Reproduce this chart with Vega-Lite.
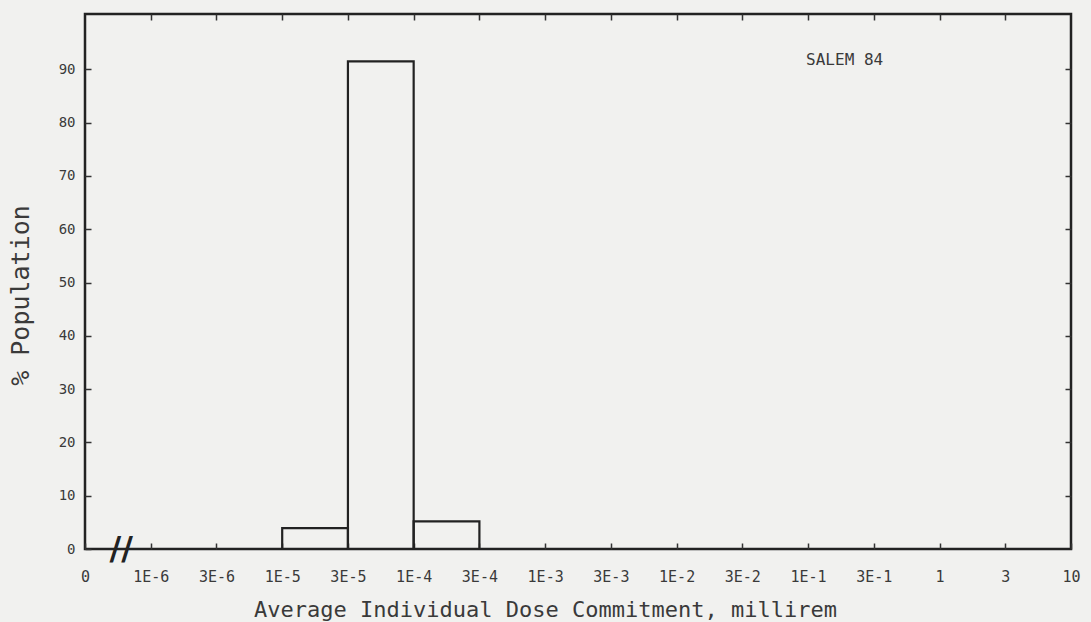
{
  "$schema": "https://vega.github.io/schema/vega-lite/v6.json",
  "width": 986,
  "height": 535,
  "autosize": "none",
  "padding": {"left": 85, "top": 14, "right": 20, "bottom": 73},
  "background": "#f1f1ef",
  "config": {
    "view": {"stroke": "#222222", "strokeWidth": 2.5},
    "axis": {
      "domain": false,
      "grid": false,
      "labelFont": "DejaVu Sans Mono",
      "titleFont": "DejaVu Sans Mono",
      "labelColor": "#3a3a3a",
      "titleColor": "#3a3a3a",
      "tickColor": "#333333",
      "tickWidth": 1.5,
      "titleFontWeight": "normal"
    }
  },
  "datasets": {
    "bars": [
      {"lo": 3, "hi": 4, "pct": 3.9},
      {"lo": 4, "hi": 5, "pct": 91.5},
      {"lo": 5, "hi": 6, "pct": 5.2}
    ],
    "note": [{"x": 10.97, "y": 91.7, "label": "SALEM  84"}],
    "brk": [{"x": 0.55, "y": 0, "label": "//"}]
  },
  "resolve": {"axis": {"x": "independent", "y": "independent"}},
  "layer": [
    {
      "data": {"name": "bars"},
      "mark": {"type": "rect", "fill": "transparent", "stroke": "#222222", "strokeWidth": 2.2},
      "encoding": {
        "x": {
          "field": "lo",
          "type": "quantitative",
          "scale": {"domain": [0, 15], "nice": false, "zero": false},
          "axis": {
            "orient": "bottom",
            "values": [0, 1, 2, 3, 4, 5, 6, 7, 8, 9, 10, 11, 12, 13, 14, 15],
            "labelExpr": "['0','1E-6','3E-6','1E-5','3E-5','1E-4','3E-4','1E-3','3E-3','1E-2','3E-2','1E-1','3E-1','1','3','10'][datum.value]",
            "labelFontSize": 15,
            "labelPadding": 26,
            "tickSize": -6,
            "labelFlush": false,
            "labelOverlap": false,
            "title": "Average Individual Dose Commitment, millirem",
            "titleFontSize": 22,
            "titleX": 460,
            "titleY": 60,
            "titleBaseline": "middle",
            "titleAlign": "center"
          }
        },
        "x2": {"field": "hi"},
        "y": {
          "field": "pct",
          "type": "quantitative",
          "scale": {"domain": [0, 100.4], "nice": false},
          "axis": {
            "orient": "left",
            "values": [0, 10, 20, 30, 40, 50, 60, 70, 80, 90],
            "labelFontSize": 14,
            "labelPadding": 16,
            "tickSize": -6,
            "labelOverlap": false,
            "title": "% Population",
            "titleFontSize": 25,
            "titleX": -65,
            "titleY": 281,
            "titleBaseline": "middle",
            "titleAlign": "center"
          }
        },
        "y2": {"datum": 0}
      }
    },
    {
      "data": {"name": "note"},
      "mark": {"type": "text", "align": "left", "baseline": "middle", "font": "DejaVu Sans Mono", "fontSize": 16, "color": "#3a3a3a"},
      "encoding": {
        "x": {
          "field": "x",
          "type": "quantitative",
          "scale": {"domain": [0, 15], "nice": false, "zero": false},
          "axis": {"orient": "top", "values": [1, 2, 3, 4, 5, 6, 7, 8, 9, 10, 11, 12, 13, 14], "labels": false, "tickSize": -6, "title": null}
        },
        "y": {
          "field": "y",
          "type": "quantitative",
          "scale": {"domain": [0, 100.4], "nice": false},
          "axis": {"orient": "right", "values": [10, 20, 30, 40, 50, 60, 70, 80, 90], "labels": false, "tickSize": -6, "title": null}
        },
        "text": {"field": "label"}
      }
    },
    {
      "data": {"name": "brk"},
      "mark": {"type": "text", "align": "center", "baseline": "middle", "font": "DejaVu Sans", "fontSize": 32, "fontWeight": "bold", "color": "#222222"},
      "encoding": {
        "x": {"field": "x", "type": "quantitative", "scale": {"domain": [0, 15], "nice": false, "zero": false}, "axis": null},
        "y": {"field": "y", "type": "quantitative", "scale": {"domain": [0, 100.4], "nice": false}, "axis": null},
        "text": {"field": "label"}
      }
    }
  ]
}
